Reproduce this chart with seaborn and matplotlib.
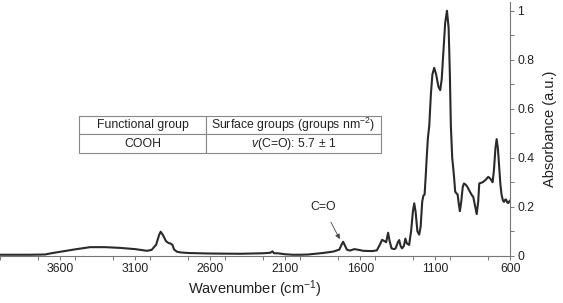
import pandas as pd
import matplotlib.pyplot as plt
import matplotlib.ticker as mticker
import seaborn as sns

# spectrum (wavenumber in cm-1, absorbance in a.u.)
wavenumber = [4000, 3800, 3700, 3660, 3600, 3500, 3400, 3300, 3200, 3100,
              3020, 2990, 2960, 2940, 2930, 2915, 2895, 2878, 2865, 2852,
              2840, 2820, 2790, 2740, 2600, 2400, 2250, 2200, 2185, 2175,
              2150, 2100, 2050, 2000, 1950, 1900, 1850, 1780, 1740, 1725,
              1715, 1705, 1690, 1670, 1640, 1620, 1580, 1520, 1490, 1470,
              1455, 1440, 1428, 1415, 1405, 1392, 1375, 1365, 1350, 1341,
              1332, 1322, 1310, 1300, 1290, 1275, 1262, 1250, 1241, 1232,
              1220, 1208, 1198, 1188, 1180, 1172, 1165, 1158, 1150, 1141,
              1130, 1120, 1108, 1095, 1080, 1068, 1058, 1045, 1035, 1023,
              1012, 1004, 997, 988, 977, 968, 960, 952, 944, 937,
              928, 918, 910, 898, 888, 870, 855, 848, 838, 825,
              815, 808, 795, 785, 765, 748, 735, 719, 710, 700,
              692, 684, 675, 667, 659, 650, 643, 636, 630, 622,
              615, 607, 600]
absorbance = [0.004, 0.004, 0.005, 0.010, 0.016, 0.026, 0.035, 0.035, 0.032, 0.027,
              0.020, 0.024, 0.045, 0.085, 0.098, 0.085, 0.060, 0.052, 0.050, 0.045,
              0.025, 0.016, 0.013, 0.011, 0.009, 0.008, 0.010, 0.012, 0.018, 0.010,
              0.010, 0.006, 0.004, 0.004, 0.005, 0.008, 0.011, 0.017, 0.025, 0.045,
              0.057, 0.045, 0.025, 0.021, 0.027, 0.025, 0.020, 0.019, 0.022, 0.045,
              0.065, 0.060, 0.055, 0.094, 0.060, 0.030, 0.027, 0.030, 0.055, 0.064,
              0.040, 0.030, 0.040, 0.070, 0.050, 0.044, 0.100, 0.180, 0.214, 0.180,
              0.100, 0.086, 0.120, 0.220, 0.245, 0.250, 0.320, 0.400, 0.480, 0.530,
              0.660, 0.740, 0.767, 0.740, 0.690, 0.676, 0.720, 0.850, 0.950, 1.000,
              0.930, 0.750, 0.530, 0.400, 0.330, 0.261, 0.255, 0.250, 0.210, 0.182,
              0.220, 0.280, 0.295, 0.290, 0.282, 0.261, 0.245, 0.241, 0.210, 0.170,
              0.220, 0.295, 0.298, 0.300, 0.310, 0.322, 0.315, 0.300, 0.350, 0.440,
              0.476, 0.440, 0.357, 0.290, 0.248, 0.225, 0.220, 0.228, 0.230, 0.218,
              0.215, 0.222, 0.227]

x_major = [3600, 3100, 2600, 2100, 1600, 1100, 600]
y_major = [0, 0.2, 0.4, 0.6, 0.8, 1]

table_cols = ['Functional group', 'Surface groups (groups nm$^{-2}$)']
table_rows = [['COOH', r'$\it{v}$(C=O): 5.7 $\pm$ 1']]

sns.set_theme(style='ticks')
plt.rcParams['font.family'] = ['Liberation Sans', 'DejaVu Sans']
plt.rcParams['mathtext.fontset'] = 'custom'
plt.rcParams['mathtext.rm'] = 'Liberation Sans'
plt.rcParams['mathtext.it'] = 'Liberation Sans:italic'

df = pd.DataFrame({'wn': wavenumber, 'abs': absorbance})

fig = plt.figure(figsize=(5.63, 3.03), dpi=100)
ax = fig.add_axes([0.0, 0.156, 0.9067, 0.8384])

sns.lineplot(data=df, x='wn', y='abs', sort=False, estimator=None,
             color='#2a2a2a', linewidth=1.5, ax=ax)

ax.set_xlim(4000, 600)
ax.set_ylim(0, 1.037)

for side in ['left', 'top']:
    ax.spines[side].set_visible(False)
for side in ['bottom', 'right']:
    ax.spines[side].set_color('#777777')
    ax.spines[side].set_linewidth(0.8)

ax.yaxis.tick_right()
ax.yaxis.set_label_position('right')
ax.xaxis.set_major_locator(mticker.FixedLocator(x_major))
ax.xaxis.set_minor_locator(mticker.MultipleLocator(250))
ax.yaxis.set_major_locator(mticker.FixedLocator(y_major))
ax.yaxis.set_minor_locator(mticker.MultipleLocator(0.1))
ax.yaxis.set_major_formatter(mticker.FuncFormatter(lambda v, p: f'{v:g}'))
ax.tick_params(which='both', direction='out', length=3, width=0.7,
               color='#777777', labelsize=8.8, labelcolor='#222222', pad=2)
ax.tick_params(axis='y', which='both', left=False, right=True)

ax.set_xlabel('Wavenumber (cm$^{-1}$)', fontsize=10.5, color='#222222', labelpad=3)
ax.set_ylabel('Absorbance (a.u.)', fontsize=10.5, color='#222222', labelpad=6)

ax.annotate('C=O', xy=(1737, 0.068), xytext=(1850, 0.2),
            ha='center', va='center', fontsize=8.8, color='#222222',
            arrowprops=dict(arrowstyle='-|>', color='#444444', lw=0.6,
                            mutation_scale=7, shrinkA=5, shrinkB=0))

tbl = ax.table(cellText=table_rows, colLabels=table_cols, cellLoc='center',
               colWidths=[0.42, 0.58], bbox=[0.1548, 0.404, 0.5916, 0.147])
tbl.auto_set_font_size(False)
tbl.set_fontsize(8.8)
for cell in tbl.get_celld().values():
    cell.set_edgecolor('#888888')
    cell.set_linewidth(0.8)
    cell.set_facecolor('white')
    cell.get_text().set_color('#222222')

plt.savefig('out.png', dpi=100)
plt.close()
